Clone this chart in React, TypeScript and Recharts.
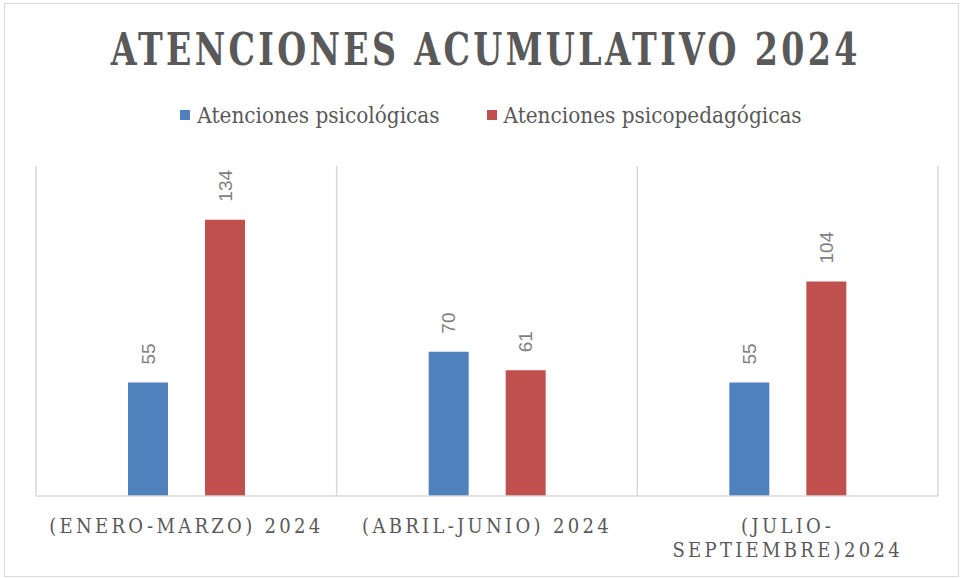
import { BarChart, Bar, XAxis, YAxis, CartesianGrid, Legend, LabelList } from 'recharts';

const categories = ['(ENERO-MARZO) 2024', '(ABRIL-JUNIO) 2024', '(JULIO-SEPTIEMBRE)2024'];
const psicologicas = [55, 70, 55];
const psicopedagogicas = [134, 61, 104];

const data = categories.map((c, i) => ({
  periodo: c,
  psico: psicologicas[i],
  psicoped: psicopedagogicas[i],
}));

const SERIF = '"DejaVu Serif Condensed", "DejaVu Serif", "Liberation Serif", serif';
const TEXT = '#595959';

function CategoryTick(props: any) {
  const { x, y, payload } = props;
  const label: string = payload.value;
  // long single-word labels wrap after the hyphen, as in the original
  const lines = label.includes(' ') ? [label] : [label.slice(0, label.indexOf('-') + 1), label.slice(label.indexOf('-') + 1)];
  return (
    <text x={x} y={y + 29} textAnchor="middle" fill={TEXT} fontFamily={SERIF} fontSize={20} letterSpacing={3.3}>
      {lines.map((l, i) => (
        <tspan key={i} x={x} dy={i === 0 ? 0 : 24}>
          {l}
        </tspan>
      ))}
    </text>
  );
}

function ValueLabel(props: any) {
  const { x, y, width, value } = props;
  const cx = x + width / 2;
  const cy = y - 18;
  return (
    <text
      x={cx}
      y={cy}
      transform={`rotate(-90 ${cx} ${cy})`}
      textAnchor="start"
      dominantBaseline="central"
      fill="#7f7f7f"
      fontFamily='"Liberation Sans", "DejaVu Sans", sans-serif'
      fontSize={19}
    >
      {value}
    </text>
  );
}

// zero-height wrapper so the legend does not push the plot area down
function LegendContent(props: any) {
  const { payload } = props;
  return (
    <div style={{ height: 0, overflow: 'visible' }}>
      <div style={{ display: 'flex', justifyContent: 'center', gap: 47, fontFamily: SERIF, fontSize: 22.3, color: TEXT }}>
        {(payload || []).map((p: any) => (
          <div key={p.value} style={{ display: 'flex', alignItems: 'center', gap: 7 }}>
            <span style={{ width: 10, height: 10, background: p.color, display: 'inline-block' }} />
            <span>{p.value}</span>
          </div>
        ))}
      </div>
    </div>
  );
}

export default function App() {
  return (
    <div style={{ position: 'absolute', left: 0, top: 0, width: 960, height: 578, background: '#fff' }}>
      <div
        style={{
          position: 'absolute',
          left: 4,
          top: 3,
          width: 953,
          height: 572,
          border: '1px solid #d9d9d9',
        }}
      />
      <div
        style={{
          position: 'absolute',
          left: 5,
          top: 24,
          width: 960,
          textAlign: 'center',
          fontFamily: SERIF,
          fontWeight: 'bold',
          fontSize: 44,
          letterSpacing: 4,
          color: TEXT,
          transform: 'scaleX(0.84)',
          transformOrigin: '485px 0',
        }}
      >
        ATENCIONES ACUMULATIVO 2024
      </div>
      <div style={{ position: 'absolute', left: 0, top: 0 }}>
        <BarChart
          width={960}
          height={578}
          data={data}
          margin={{ top: 166, right: 22, left: 36, bottom: 22 }}
          barSize={40}
          barGap={37}
        >
          <CartesianGrid
            horizontal={false}
            stroke="#d9d9d9"
            strokeWidth={1.5}
            verticalCoordinatesGenerator={({ offset }: any) =>
              [0, 1, 2, 3].map((i) => offset.left + (i * offset.width) / categories.length)
            }
          />
          <XAxis
            dataKey="periodo"
            height={60}
            axisLine={{ stroke: '#d9d9d9', strokeWidth: 1.5 }}
            tickLine={false}
            tick={<CategoryTick />}
            interval={0}
          />
          <YAxis hide domain={[0, 160]} />
          <Legend
            layout="vertical"
            verticalAlign="top"
            align="center"
            wrapperStyle={{ left: 11, top: 102, width: 960 }}
            content={<LegendContent />}
          />
          <Bar dataKey="psico" name="Atenciones psicológicas" fill="#4f81bd" isAnimationActive={false}>
            <LabelList dataKey="psico" content={<ValueLabel />} />
          </Bar>
          <Bar dataKey="psicoped" name="Atenciones psicopedagógicas" fill="#c0504d" isAnimationActive={false}>
            <LabelList dataKey="psicoped" content={<ValueLabel />} />
          </Bar>
        </BarChart>
      </div>
    </div>
  );
}
